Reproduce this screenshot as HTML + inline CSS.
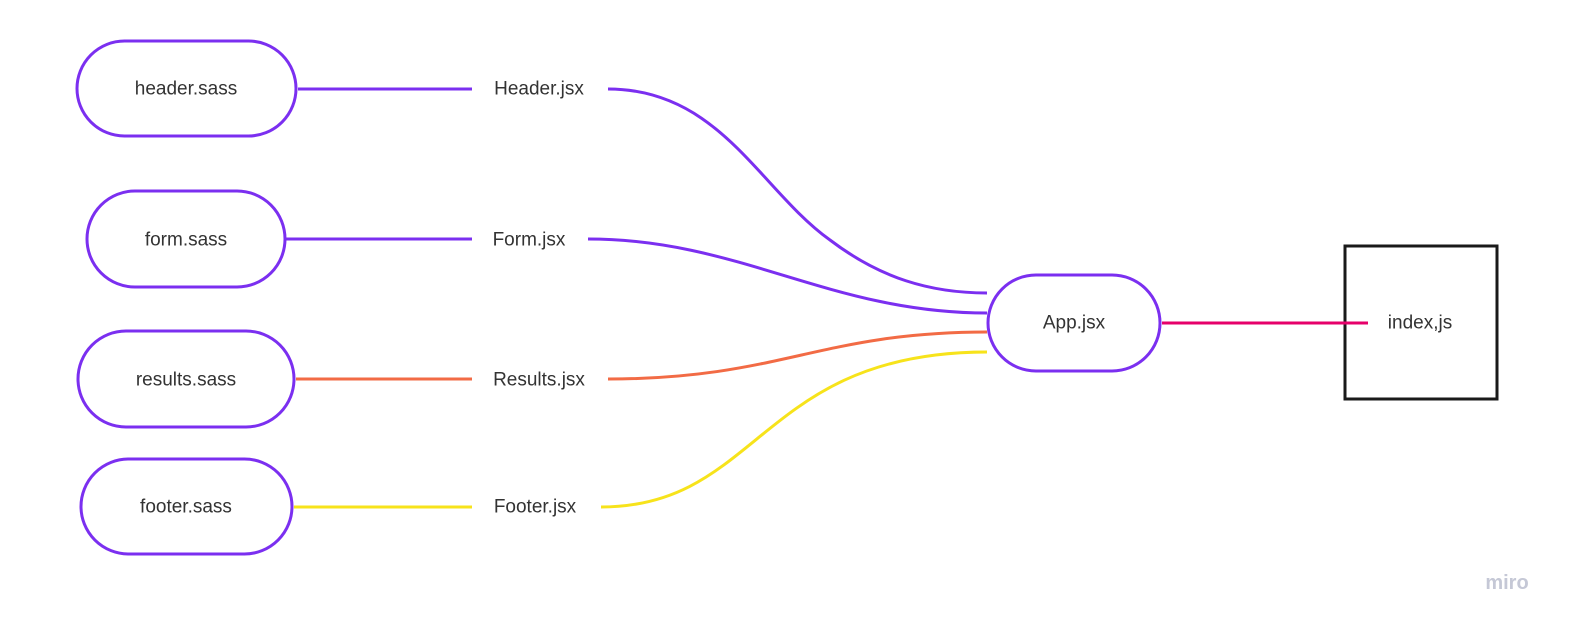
<!DOCTYPE html>
<html><head><meta charset="utf-8"><style>
html,body{margin:0;padding:0;background:#fff;}
svg text{font-family:"Liberation Sans",sans-serif;font-size:19px;fill:#333;}
</style></head><body>
<svg width="1581" height="632" viewBox="0 0 1581 632" xmlns="http://www.w3.org/2000/svg">
<g fill="none" stroke-width="3">
<rect x="77" y="41" width="219" height="95" rx="47.5" stroke="#7b2ff0"/>
<rect x="87" y="191" width="198" height="96" rx="48" stroke="#7b2ff0"/>
<rect x="78" y="331" width="216" height="96" rx="48" stroke="#7b2ff0"/>
<rect x="81" y="459" width="211" height="95" rx="47.5" stroke="#7b2ff0"/>
<rect x="988" y="275" width="172" height="96" rx="48" stroke="#7b2ff0"/>
<rect x="1345" y="246" width="152" height="153" stroke="#1a1a1a"/>
<line x1="298" y1="89" x2="472" y2="89" stroke="#7b2ff0"/>
<line x1="286" y1="239" x2="472" y2="239" stroke="#7b2ff0"/>
<line x1="296" y1="379" x2="472" y2="379" stroke="#f26b45"/>
<line x1="294" y1="507" x2="472" y2="507" stroke="#f7e31b"/>
<path d="M608 89 C720 89 760 190 830 240 C880 278 930 293 987 293" stroke="#7b2ff0"/>
<path d="M588 239 C740 239 830 313 987 313" stroke="#7b2ff0"/>
<path d="M608 379 C780 379 820 332 987 332" stroke="#f26b45"/>
<path d="M601 507 C760 507 760 352 987 352" stroke="#f7e31b"/>
<line x1="1162" y1="323" x2="1368" y2="323" stroke="#e6006a"/>
</g>
<g text-anchor="middle" dominant-baseline="central">
<text x="186" y="89">header.sass</text>
<text x="186" y="240">form.sass</text>
<text x="186" y="380">results.sass</text>
<text x="186" y="507">footer.sass</text>
<text x="539" y="89">Header.jsx</text>
<text x="529" y="240">Form.jsx</text>
<text x="539" y="380">Results.jsx</text>
<text x="535" y="507">Footer.jsx</text>
<text x="1074" y="323">App.jsx</text>
<text x="1420" y="323">index,js</text>
<text x="1507" y="583" style="fill:#c5c8d6;font-size:20px;font-weight:bold">miro</text>
</g>
</svg>
</body></html>
